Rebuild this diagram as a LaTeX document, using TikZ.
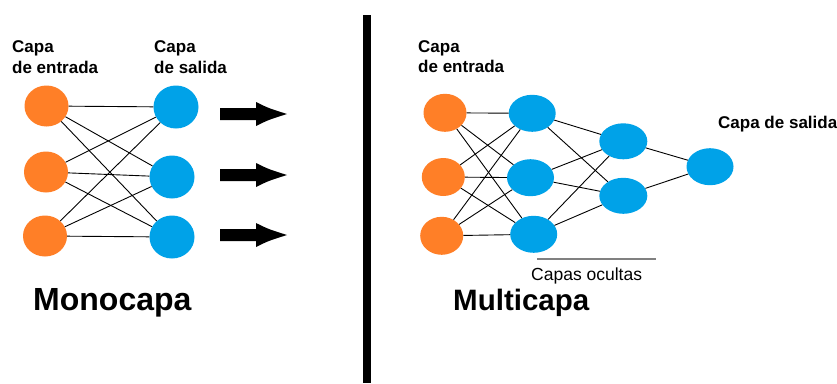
\documentclass[tikz,border=0pt]{standalone}
\usepackage{fontspec}
\setmainfont{Liberation Sans}
\usetikzlibrary{shapes.geometric}
\definecolor{inorange}{RGB}{255,127,39}
\definecolor{nblue}{RGB}{0,162,232}
\begin{document}
\begin{tikzpicture}[x=1pt,y=-1pt,
  inl/.style={ellipse, fill=inorange, inner sep=0pt, minimum width=44pt, minimum height=41pt},
  outl/.style={ellipse, fill=nblue, inner sep=0pt, minimum width=45pt, minimum height=43pt},
  inr/.style={ellipse, fill=inorange, inner sep=0pt, minimum width=43pt, minimum height=38pt},
  hid/.style={ellipse, fill=nblue, inner sep=0pt, minimum width=47pt, minimum height=37pt},
  link/.style={draw=black, line width=0.9pt},
  lbl/.style={anchor=base west, inner sep=0pt, font=\fontsize{17}{20}\selectfont\bfseries},
  title/.style={anchor=base west, inner sep=0pt},
  bigarrow/.style={fill=black}
]
\fill[white] (0,0) rectangle (837,383);
\useasboundingbox (0,0) rectangle (837,383);

% divider
\fill[black] (362.8,15) rectangle (370.8,383);

% ---------- Monocapa ----------
\node[lbl] (lc1) at (12,52.7) {Capa};
\node[lbl] (lc2) at (12,73.3) {de entrada};
\node[lbl] (lc3) at (154,52.7) {Capa};
\node[lbl] (lc4) at (154,73.3) {de salida};

\node[inl] (i1) at (46.5,106) {};
\node[inl] (i2) at (46,172) {};
\node[inl] (i3) at (45,236) {};
\node[outl] (o1) at (176,107) {};
\node[outl] (o2) at (172,177) {};
\node[outl] (o3) at (172,237) {};

\foreach \a in {i1,i2,i3}
  \foreach \b in {o1,o2,o3}
    \draw[link] (\a) -- (\b);

\foreach \c/\n in {114/a1,175/a2,235/a3}{
  \fill[bigarrow] (220,\c-6) -- (256,\c-6) -- (256,\c-12)
     .. controls (268,\c-6) .. (287,\c)
     .. controls (268,\c+6) .. (256,\c+12) -- (256,\c+6) -- (220,\c+6) -- cycle;
}

\node[title, font=\fontsize{32}{36}\selectfont\bfseries] (mono) at (33,310) {Monocapa};

% ---------- Multicapa ----------
\node[lbl] (rc1) at (418,52) {Capa};
\node[lbl] (rc2) at (418,72.7) {de entrada};
\node[lbl] (rc3) at (718,128) {Capa de salida};

\node[inr] (r1) at (445,112.8) {};
\node[inr] (r2) at (443.3,177) {};
\node[inr] (r3) at (441.7,235.8) {};
\node[hid] (h1) at (532.2,113.3) {};
\node[hid] (h2) at (530.5,177.7) {};
\node[hid] (h3) at (533.7,234.3) {};
\node[hid, minimum width=48pt, minimum height=36pt] (g1) at (623.3,141.3) {};
\node[hid, minimum width=48pt, minimum height=36pt] (g2) at (623.3,195.8) {};
\node[hid] (out) at (710,166.7) {};

\foreach \a in {r1,r2,r3}
  \foreach \b in {h1,h2,h3}
    \draw[link] (\a) -- (\b);
\foreach \a in {h1,h2,h3}
  \foreach \b in {g1,g2}
    \draw[link] (\a) -- (\b);
\foreach \a in {g1,g2}
  \draw[link] (\a) -- (out);

\coordinate (hl) at (537,259);
\coordinate (hr) at (656,259);
\draw[draw=black!50, line width=1.3pt] (hl) -- (hr);
\node[title, font=\fontsize{17.5}{20}\selectfont] (oc) at (531,280) {Capas ocultas};

\node[title, font=\fontsize{29.5}{34}\selectfont\bfseries] (multi) at (453,310) {Multicapa};
\end{tikzpicture}
\end{document}
